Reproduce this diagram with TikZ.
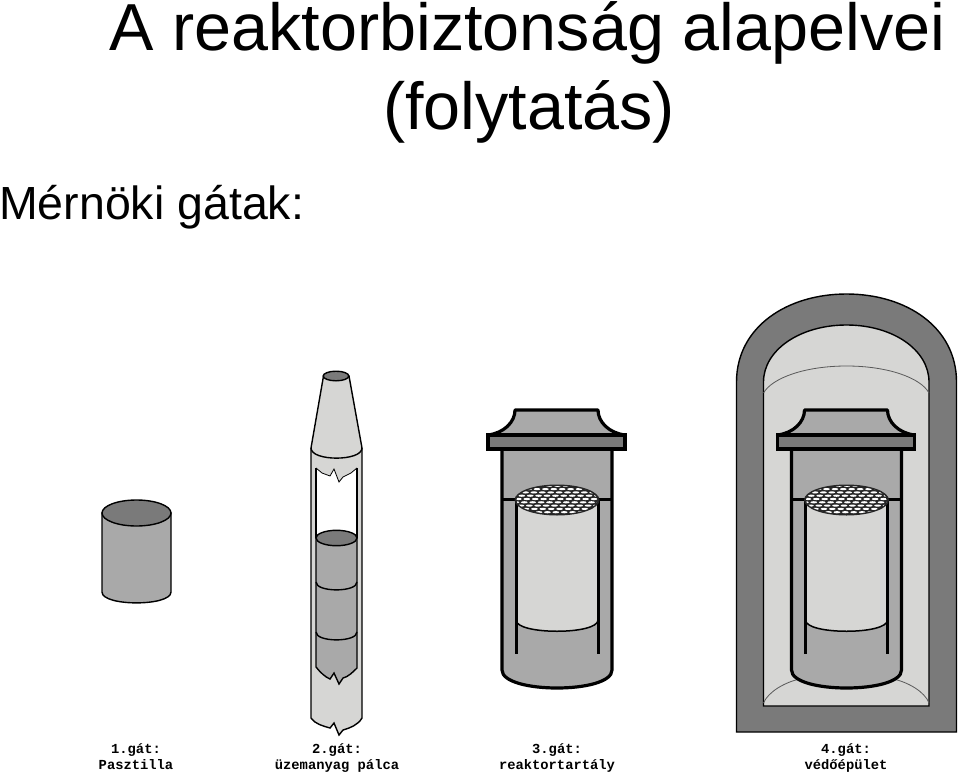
\documentclass[tikz,border=0pt]{standalone}
\usepackage{fontspec}
\setmainfont{Liberation Sans}
\newfontfamily\labelfont{Liberation Mono}
\definecolor{darkg}{HTML}{7A7A7A}
\definecolor{midg}{HTML}{A9A9A9}
\definecolor{lightg}{HTML}{D6D6D4}
\tikzset{
 titletext/.style={inner sep=0,anchor=base,font=\fontsize{66.5}{67}\selectfont,text=black},
 sidetext/.style={inner sep=0,anchor=base west,font=\fontsize{46.5}{47}\selectfont,text=black},
 gatelabel/.style={inner sep=0,anchor=base,font=\labelfont\bfseries\fontsize{13.8}{14}\selectfont,text=black},
 thin outline/.style={draw=black,line width=1.4pt},
 heavy outline/.style={draw=black,line width=3.2pt},
 faint/.style={draw=black!65,line width=0.8pt}
}
\newcommand{\reactorvessel}[1]{%
 \begin{scope}[xshift=#1]
  \path[fill=midg,heavy outline] (-55,449) -- (-55,670) .. controls (-55,694) and (55,694) .. (55,670) -- (55,449) -- cycle;
  \path[fill=midg,heavy outline,line join=round] (-42,410) -- (41,410) .. controls (41,422) and (52,433) .. (68,435) -- (-69,435) .. controls (-53,433) and (-42,422) .. (-42,410) -- cycle;
  \path[fill=darkg,heavy outline] (-69,435) rectangle (68,449);
  \path[fill=lightg] (-41,500) -- (-41,620) .. controls (-41,635) and (41,635) .. (41,620) -- (41,500) -- cycle;
  \draw[line width=1.5pt] (-41,620) .. controls (-41,635) and (41,635) .. (41,620);
  \draw[line width=3pt] (-55,499) -- (-41,499) (55,499) -- (41,499);
  \draw[line width=3pt] (-41,499) -- (-41,654) (41,499) -- (41,654);
  \path[fill=black!85] (0,500) ellipse [x radius=42.5,y radius=15.5];
  \begin{scope}
   \clip (0,500) ellipse [x radius=40.5,y radius=14];
   \foreach \r/\o in {0/0.5,1/5.2,2/2.1,3/6.8,4/3.4,5/0.9,6/5.9,7/2.6,8/7.2,9/4.1}{
    \foreach \c in {-6,...,5}{
     \pgfmathsetmacro{\xx}{\c*8.4+\o}
     \pgfmathsetmacro{\yy}{485.8+\r*3.3}
     \fill[white] (\xx,\yy) ellipse [x radius=3.4,y radius=1.1];
    }
   }
  \end{scope}
 \end{scope}}
\begin{document}
\begin{tikzpicture}[x=1pt,y=-1pt]
\useasboundingbox (0,0) rectangle (960,773);
\fill[white] (0,0) rectangle (960,773);
% titles
\node[titletext] (title1) at (527.5,51) {A reaktorbiztonság alapelvei};
\node[titletext] (title2) at (529,129.5) {(folytatás)};
\node[sidetext] (side) at (-1,219.5) {Mérnöki gátak:};
% pellet
\path[fill=midg,thin outline] (102,513) -- (102,592) .. controls (102,606.5) and (171,606.5) .. (171,592) -- (171,513) -- cycle;
\path[fill=darkg,thin outline] (136.5,513) ellipse [x radius=34.5,y radius=13];
% fuel rod
\path[fill=lightg,thin outline] (323.5,376) -- (311,448) -- (311,718) .. controls (315,724) and (323,726) .. (330,728) -- (334,723) -- (339,735) -- (343,730) .. controls (350,728) and (358,725) .. (362,718) -- (362,448) -- (349,376) -- cycle;
\draw[line width=1.4pt] (311,448) .. controls (311,461.5) and (362,461.5) .. (362,448);
\path[fill=darkg,thin outline] (336,376) ellipse [x radius=12.8,y radius=4.8];
\path[fill=white] (316,468) -- (322,473) -- (330,476) -- (334,469) -- (339,482) -- (343,477) -- (351,473) -- (357,468) -- (357,538) -- (316,538) -- cycle;
\draw[line width=0.8pt] (316,468) -- (322,473) -- (330,476) -- (334,469) -- (339,482) -- (343,477) -- (351,473) -- (357,468);
\path[fill=midg,thin outline] (316,538) -- (316,667) .. controls (320,672) and (325,677) .. (330,679) -- (334,673) -- (339,684) -- (343,678) .. controls (348,677) and (353,672) .. (357,668) -- (357,538) -- cycle;
\draw[line width=1.4pt] (316,468) -- (316,538) (357,468) -- (357,538);
\draw[line width=1.4pt] (316,582) .. controls (316,592.5) and (357,592.5) .. (357,582);
\draw[line width=1.4pt] (316,632) .. controls (316,642.5) and (357,642.5) .. (357,632);
\path[fill=darkg,thin outline] (336.5,538) ellipse [x radius=20.5,y radius=7.7];
% reactor 3
\reactorvessel{557}
% containment
\path[fill=darkg,thin outline] (736.5,382) .. controls (736.5,327) and (787,294) .. (846.5,294) .. controls (906,294) and (956.5,327) .. (956.5,382) -- (956.5,732) -- (736.5,732) -- cycle;
\path[fill=lightg,thin outline] (763.5,382) .. controls (763.5,350) and (800,325) .. (846.5,325) .. controls (893,325) and (929,350) .. (929,382) -- (929,706) -- (763.5,706) -- cycle;
\draw[faint] (763.5,393) .. controls (772,378) and (805,366) .. (846.5,366) .. controls (888,366) and (921,378) .. (929,393);
\draw[faint] (763.5,703) .. controls (768,692) and (785,682) .. (800,679) (929,703) .. controls (925,692) and (908,682) .. (893,679);
\reactorvessel{846.5}
% labels
\node[gatelabel] (g1a) at (136,753) {1.gát:};
\node[gatelabel] (g1b) at (136,769) {Pasztilla};
\node[gatelabel] (g2a) at (337,753) {2.gát:};
\node[gatelabel] (g2b) at (337,769) {üzemanyag pálca};
\node[gatelabel] (g3a) at (557,753) {3.gát:};
\node[gatelabel] (g3b) at (557,769) {reaktortartály};
\node[gatelabel] (g4a) at (846,753) {4.gát:};
\node[gatelabel] (g4b) at (846,769) {védőépület};
\end{tikzpicture}
\end{document}
